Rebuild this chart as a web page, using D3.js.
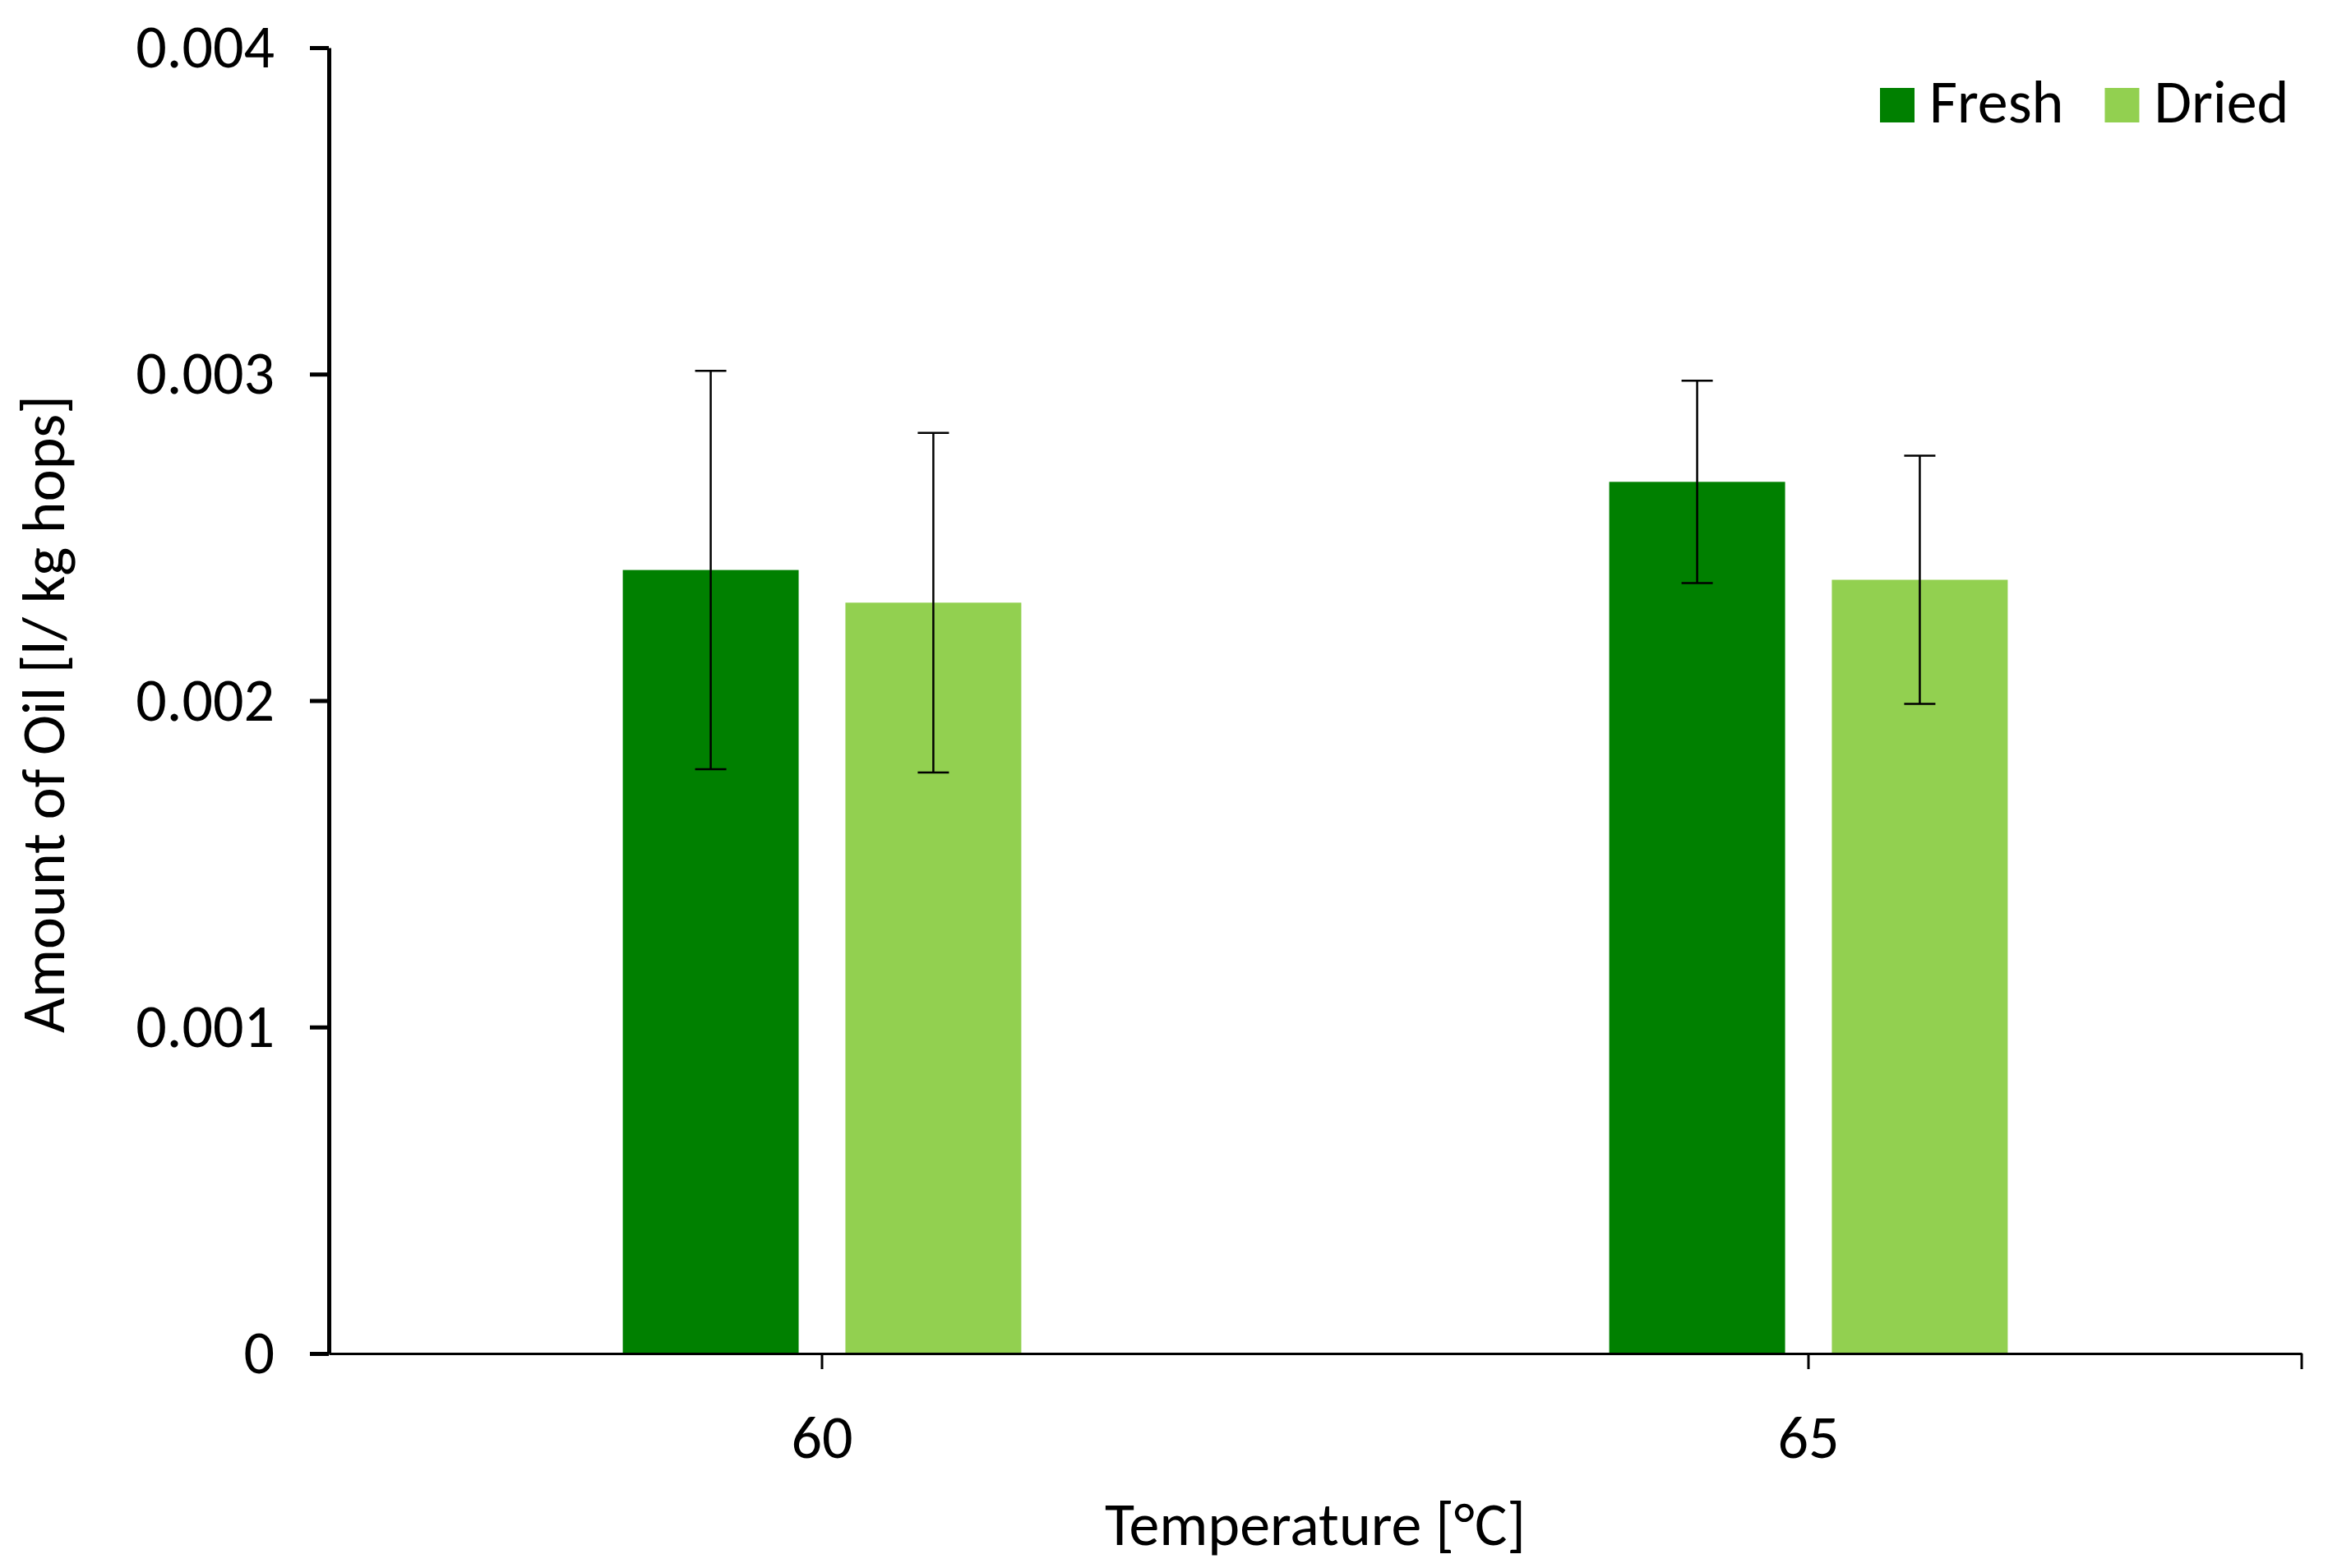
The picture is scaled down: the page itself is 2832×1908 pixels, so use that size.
<!DOCTYPE html>
<html>
<head>
<meta charset="utf-8">
<script src="https://cdn.jsdelivr.net/npm/d3@7"></script>
<style>
  body { margin: 0; background: #fff; }
  svg text { font-family: Carlito, Calibri, Lato, sans-serif; fill: #000; }
</style>
</head>
<body>
<div id="chart"></div>
<script>
// chart data
const temps = ["60", "65"];
const series = ["Fresh", "Dried"];
const freshVals = [0.00240, 0.00267];
const driedVals = [0.00230, 0.00237];
const freshErr = [0.00061, 0.00031];
const driedErr = [0.00052, 0.00038];
const yTicks = [0, 0.001, 0.002, 0.003, 0.004];
const colors = ["#008000", "#92D050"];

const WIDTH = 2832, HEIGHT = 1908;
const margin = {top: 58, right: 32, bottom: 261, left: 400};
const FONT = 74;

let svg = d3.select("#chart")
    .append("svg")
    .attr("width", WIDTH)
    .attr("height", HEIGHT);

let x0 = d3.scaleBand()
    .domain(temps)
    .range([margin.left, WIDTH - margin.right])
    .padding(0);

// bars sit in the middle ~40% of each category
let groupW = x0.bandwidth() * 0.404;
let x1 = d3.scaleBand()
    .domain(series)
    .range([0, groupW])
    .paddingInner(0.21);

let y = d3.scaleLinear()
    .domain([0, 0.004])
    .range([HEIGHT - margin.bottom, margin.top]);

// flatten into rows for drawing
let rows = [];
temps.forEach(function(t, i) {
    rows.push({temp: t, s: "Fresh", v: freshVals[i], e: freshErr[i]});
    rows.push({temp: t, s: "Dried", v: driedVals[i], e: driedErr[i]});
});
let color = d3.scaleOrdinal().domain(series).range(colors);

let barX = d => x0(d.temp) + x0.bandwidth() / 2 - groupW / 2 + x1(d.s);

svg.append("g")
    .selectAll("rect")
    .data(rows)
    .enter()
    .append("rect")
    .attr("x", barX)
    .attr("y", d => y(d.v))
    .attr("width", x1.bandwidth())
    .attr("height", d => y(0) - y(d.v))
    .attr("fill", d => color(d.s));

// error bars
let err = svg.append("g").attr("stroke", "#000").attr("stroke-width", 2.5);
let capW = 19;
rows.forEach(function(d) {
    let cx = barX(d) + x1.bandwidth() / 2;
    err.append("line").attr("x1", cx).attr("x2", cx)
        .attr("y1", y(d.v + d.e)).attr("y2", y(d.v - d.e));
    err.append("line").attr("x1", cx - capW).attr("x2", cx + capW)
        .attr("y1", y(d.v + d.e)).attr("y2", y(d.v + d.e));
    err.append("line").attr("x1", cx - capW).attr("x2", cx + capW)
        .attr("y1", y(d.v - d.e)).attr("y2", y(d.v - d.e));
});

// x axis
let xAxis = svg.append("g")
    .attr("transform", `translate(0, ${y(0)})`)
    .call(d3.axisBottom(x0).tickSize(19).tickSizeOuter(0).tickPadding(55));
xAxis.select(".domain").attr("stroke", "#000").attr("stroke-width", 3);
xAxis.selectAll(".tick line").attr("stroke", "#000").attr("stroke-width", 3);
xAxis.selectAll("text").style("font-size", FONT + "px");
xAxis.append("line")
    .attr("x1", x0.range()[1]).attr("x2", x0.range()[1])
    .attr("y1", 0).attr("y2", 19)
    .attr("stroke", "#000").attr("stroke-width", 3);

// y axis
let yAxis = svg.append("g")
    .attr("transform", `translate(${margin.left}, 0)`)
    .call(d3.axisLeft(y).tickValues(yTicks).tickSize(23).tickSizeOuter(0).tickPadding(43)
        .tickFormat(d => d === 0 ? "0" : d3.format(".3f")(d)));
yAxis.select(".domain").attr("stroke", "#000").attr("stroke-width", 5);
yAxis.selectAll(".tick line").attr("stroke", "#000").attr("stroke-width", 5);
yAxis.selectAll("text").style("font-size", FONT + "px");

// axis titles
svg.append("text")
    .attr("x", (x0.range()[0] + x0.range()[1]) / 2)
    .attr("y", 1880)
    .style("text-anchor", "middle")
    .style("font-size", FONT + "px")
    .text("Temperature [°C]");

svg.append("text")
    .attr("transform", `translate(78, 869) rotate(-90)`)
    .style("text-anchor", "middle")
    .style("font-size", FONT + "px")
    .text("Amount of Oil [l/ kg hops]");

// legend
let legend = svg.append("g").attr("transform", "translate(2287, 149)");
let lx = 0;
series.forEach(function(s) {
    legend.append("rect")
        .attr("x", lx).attr("y", -42)
        .attr("width", 42).attr("height", 42)
        .attr("fill", color(s));
    let t = legend.append("text")
        .attr("x", lx + 60).attr("y", 0)
        .style("font-size", FONT + "px")
        .text(s);
    lx += 60 + t.node().getComputedTextLength() + 50;
});
</script>
</body>
</html>
